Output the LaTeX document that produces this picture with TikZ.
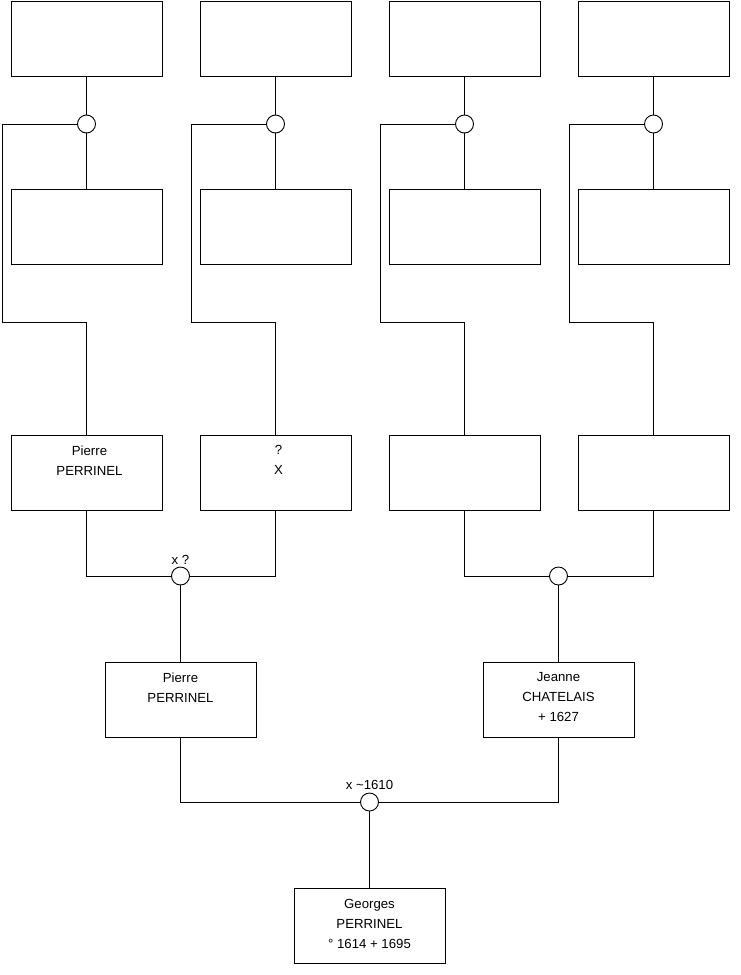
\documentclass[tikz,border=0pt]{standalone}
\usepackage{fontspec}
\setmainfont{Liberation Sans}
\usetikzlibrary{positioning}

\begin{document}
\begin{tikzpicture}[x=1pt, y=-1pt, line width=0.9pt,
        person/.style={rectangle, draw, minimum width=151pt, minimum height=75pt, inner sep=0pt},
        union/.style={circle, draw, fill=white, minimum size=18pt, inner sep=0pt},
        who/.style={align=center, inner sep=0pt, font=\fontsize{13.2}{20}\selectfont},
        date/.style={inner sep=2pt, font=\fontsize{13.2}{15}\selectfont}]
        \useasboundingbox (0,0) rectangle (740,975);

        % grand-parents
        \foreach \i/\x in {1/86.5, 2/275.5, 3/464.5, 4/653.5} {
            \node[person] (g\i) at (\x,38.5) {};
            \node[union] (m\i) at (\x,124) {};
            \node[person] (s\i) at (\x,227) {};
            \node[person] (p\i) at (\x,472.5) {};
            \coordinate (k\i) at (\x-84.5,322);
            \draw (g\i) -- (m\i) -- (s\i);
            \draw (m\i.west) -| (k\i) -| (p\i);
        }
        \node[who, below=10.5pt of p1.north, anchor=north, xshift=3pt] (t1) {Pierre\\PERRINEL};
        \node[who, below=10.5pt of p2.north, anchor=north, xshift=3pt] (t2) {?\\X};

        % parents
        \node[union, label={[date]above:x ?}] (u1) at (180.5,576) {};
        \node[union] (u2) at (558.5,576) {};
        \draw (p1) |- (u1) -| (p2);
        \draw (p3) |- (u2) -| (p4);

        \node[person] (q1) at (180.5,699.5) {};
        \node[person] (q2) at (558.5,699.5) {};
        \node[who, below=10.5pt of q1.north, anchor=north] (t3) {Pierre\\PERRINEL};
        \node[who, below=10.5pt of q2.north, anchor=north] (t4) {Jeanne\\CHATELAIS\\+ 1627};
        \draw (u1) -- (q1);
        \draw (u2) -- (q2);

        % Georges
        \node[union, label={[date]above:x \textasciitilde1610}] (v) at (369.5,802) {};
        \draw (q1) |- (v) -| (q2);
        \node[person] (r) at (369.5,926) {};
        \node[who, below=10.5pt of r.north, anchor=north] (t5) {Georges\\PERRINEL\\° 1614 + 1695};
        \draw (v) -- (r);
    \end{tikzpicture}
\end{document}
